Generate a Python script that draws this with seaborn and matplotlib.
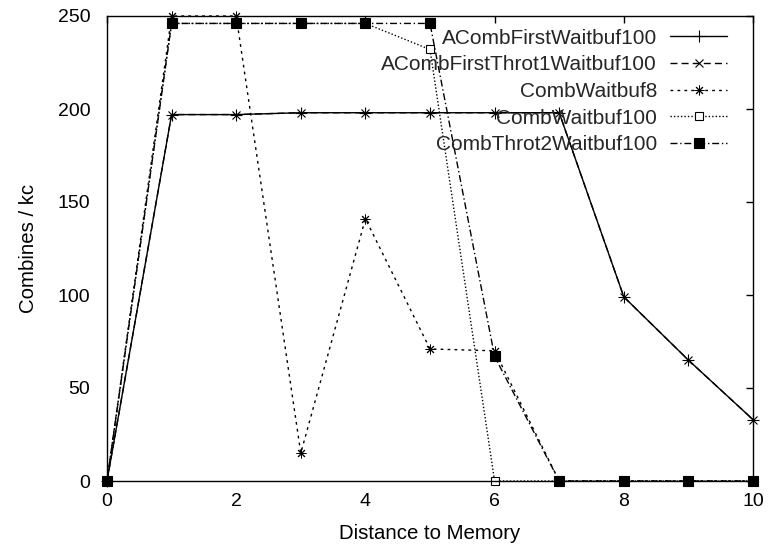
import matplotlib
matplotlib.use("Agg")
import matplotlib.pyplot as plt
import seaborn as sns
import pandas as pd

distance = [0, 1, 2, 3, 4, 5, 6, 7, 8, 9, 10]
acomb_first_waitbuf100 = [0, 197, 197, 198, 198, 198, 198, 198, 99, 65, 33]
acomb_first_throt1_waitbuf100 = [0, 197, 197, 198, 198, 198, 198, 198, 99, 65, 33]
comb_waitbuf8 = [0, 250, 250, 15, 141, 71, 70, 0, 0, 0, 0]
comb_waitbuf100 = [0, 246, 246, 246, 246, 232, 0, 0, 0, 0, 0]
comb_throt2_waitbuf100 = [0, 246, 246, 246, 246, 246, 67, 0, 0, 0, 0]

series_names = ["ACombFirstWaitbuf100", "ACombFirstThrot1Waitbuf100",
                "CombWaitbuf8", "CombWaitbuf100", "CombThrot2Waitbuf100"]
series_values = [acomb_first_waitbuf100, acomb_first_throt1_waitbuf100,
                 comb_waitbuf8, comb_waitbuf100, comb_throt2_waitbuf100]
x_ticks = [0, 2, 4, 6, 8, 10]
y_ticks = [0, 50, 100, 150, 200, 250]

sns.set_theme(style="white")
plt.rcParams["font.family"] = ["Liberation Sans", "DejaVu Sans"]

styles = [
    dict(dashes=(None, None), marker="+", ms=8, mfc="black", mew=0.8),
    dict(dashes=(5, 3), marker="x", ms=6, mfc="black", mew=0.8),
    dict(dashes=(2, 3), marker=(8, 2, 0), ms=7, mfc="black", mew=0.7),
    dict(dashes=(1, 1.5), marker="s", ms=5.5, mfc="white", mew=0.8),
    dict(dashes=(5, 2, 1, 2), marker="s", ms=6.5, mfc="black", mew=0.8),
]

fig = plt.figure(figsize=(7.71, 5.5), dpi=100)
ax = fig.add_axes([107/771, 1 - 481/550, (753-107)/771, (481-16)/550])

for name, vals, st in zip(series_names, series_values, styles):
    df = pd.DataFrame({"x": distance, "y": vals})
    sns.lineplot(data=df, x="x", y="y", ax=ax, color="black", lw=1,
                 marker=st["marker"], markersize=st["ms"],
                 markerfacecolor=st["mfc"], markeredgecolor="black",
                 markeredgewidth=st["mew"], label=name, clip_on=False)
    l = ax.get_lines()[-1]
    if st["dashes"][0] is not None:
        l.set_dashes(st["dashes"])

ax.set_xlim(0, 10)
ax.set_ylim(0, 250)
ax.set_xticks(x_ticks)
ax.set_yticks(y_ticks)
ax.tick_params(direction="in", length=5, width=1, top=True, right=True,
               labelsize=14, pad=9, colors="black")
ax.tick_params(axis="y", pad=12)
for s in ax.spines.values():
    s.set_visible(True)
    s.set_color("black")
    s.set_linewidth(1)
ax.set_xlabel("Distance to Memory", fontsize=14.7, labelpad=10, color="black")
ax.set_ylabel("Combines / kc", fontsize=14.7, labelpad=14, color="black")

leg = ax.legend(loc="upper right", bbox_to_anchor=(0.96, 0.973), frameon=False,
                markerfirst=False, fontsize=15, handlelength=2.75,
                handletextpad=0.62, labelspacing=0.37, borderaxespad=0,
                borderpad=0)
for h in leg.legend_handles:
    h.set_color("black")

fig.savefig("out.png", dpi=100)
